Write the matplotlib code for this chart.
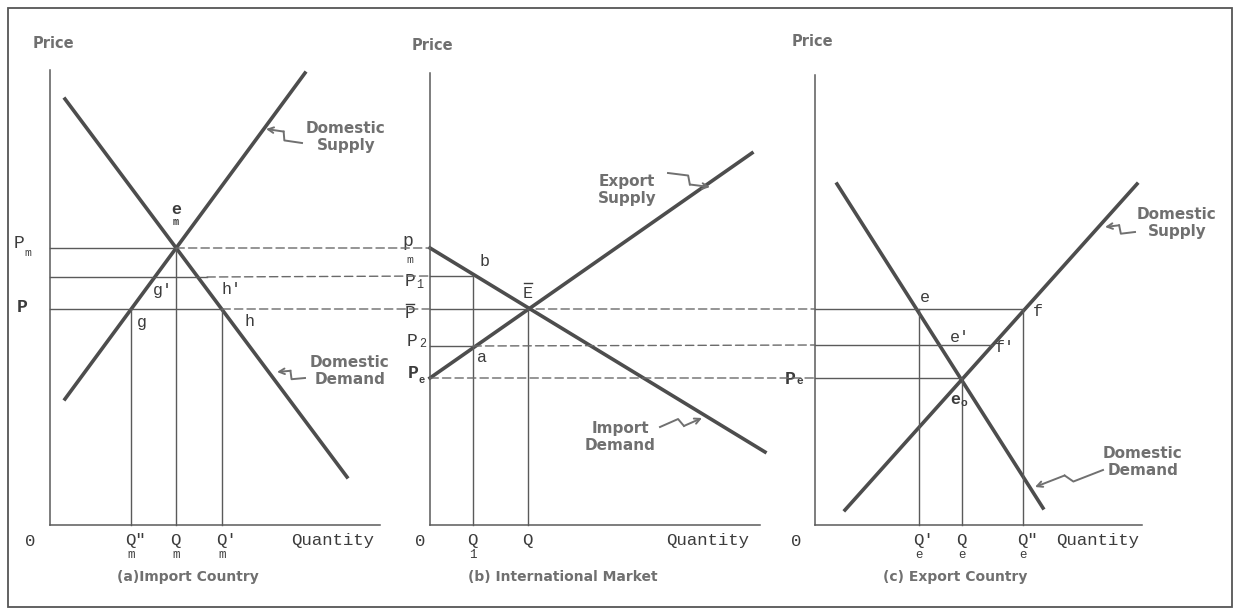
import numpy as np
import matplotlib
matplotlib.use('Agg')
import matplotlib.pyplot as plt
from matplotlib.patches import ConnectionPatch, Rectangle

# values (units: pixels from each panel's origin)
# (a) import country
a_supply_q = [15, 255]
a_supply_p = [126, 452]
a_demand_q = [15, 297]
a_demand_p = [426, 48]
a_em = [126, 277]
a_g = [81, 216]
a_h = [172, 216]
a_h1 = [149, 248]

# (b) international market
b_supply_q = [0, 322]
b_supply_p = [147, 372]
b_demand_q = [0, 335]
b_demand_p = [277, 73]
b_E = [98, 216]
b_b = [43, 249]
b_a = [43, 179]

# (c) export country
c_supply_q = [30, 322]
c_supply_p = [15, 341]
c_demand_q = [22, 228]
c_demand_p = [341, 17]
c_e = [104, 216]
c_f = [208, 216]
c_e0 = [147, 147]
c_f1 = [177, 180]

W, H = 1238, 611
fig = plt.figure(figsize=(W / 100, H / 100), dpi=100)

CURVE = '#4d4d4d'
THIN = '#5a5a5a'
DASH = '#6a6a6a'
TXT = '#707070'
INK = '#3c3c3c'
MONO = 'Liberation Mono'


def panel(x0, ytop, x1, ybot):
    ax = fig.add_axes([x0 / W, 1 - ybot / H, (x1 - x0) / W, (ybot - ytop) / H])
    ax.set_xlim(0, x1 - x0)
    ax.set_ylim(0, ybot - ytop)
    for s in ['top', 'right']:
        ax.spines[s].set_visible(False)
    for s in ['left', 'bottom']:
        ax.spines[s].set_color(THIN)
        ax.spines[s].set_linewidth(1.1)
    ax.set_xticks([])
    ax.set_yticks([])
    ax.patch.set_alpha(0)
    return ax


def thin(ax, q, p):
    ax.plot(q, p, color=THIN, lw=1.0, clip_on=False)


def dashed(axA, ptA, axB, ptB):
    cp = ConnectionPatch(xyA=ptA, coordsA=axA.transData, xyB=ptB, coordsB=axB.transData,
                         color=DASH, lw=1.0, linestyle=(0, (6, 3)))
    fig.add_artist(cp)


def lab(ax, x, y, s, sub=None, size=12, bold=False, dx=5, dy=-11, subsize=8.5, bar=False):
    w = 'bold' if bold else 'normal'
    ax.text(x, y, s, family=MONO, fontsize=size, color=INK, ha='center', va='center',
            fontweight=w, clip_on=False)
    if sub:
        ax.text(x + dx, y + dy, sub, family=MONO, fontsize=subsize, color=INK,
                ha='center', va='center', fontweight=w, clip_on=False)
    if bar:
        ax.plot([x - 4, x + 4], [y + 10, y + 10], color=INK, lw=1.0, clip_on=False)


def qtick(ax, x, s, sub=None):
    ax.text(x - 6, -16, s, family=MONO, fontsize=12.5, color=INK, ha='left', va='center', clip_on=False)
    if sub:
        ax.text(x, -30, sub, family=MONO, fontsize=9, color=INK, ha='center', va='center', clip_on=False)


def note(ax, x, y, s):
    ax.text(x, y, s, fontsize=11, fontweight='bold', color=TXT, ha='center', va='center',
            linespacing=1.15, clip_on=False)


def squiggle(ax, start, end):
    s = np.array(start, float)
    e = np.array(end, float)
    d = e - s
    n = np.array([-d[1], d[0]]) / np.hypot(*d)
    w = 4.0
    p1 = s + 0.45 * d + n * w
    p2 = s + 0.55 * d - n * w
    ax.plot([s[0], p1[0], p2[0]], [s[1], p1[1], p2[1]], color=TXT, lw=1.4, clip_on=False)
    ax.annotate('', xy=e, xytext=p2, arrowprops=dict(arrowstyle='->', color=TXT, lw=1.4,
                                                    shrinkA=0, shrinkB=0, mutation_scale=10))


ax_a = panel(50, 70, 380, 525)
ax_b = panel(430, 73, 760, 525)
ax_c = panel(815, 75, 1142, 525)

# ---- panel a
ax_a.plot(a_supply_q, a_supply_p, color=CURVE, lw=2.6, clip_on=False)
ax_a.plot(a_demand_q, a_demand_p, color=CURVE, lw=2.6, clip_on=False)
thin(ax_a, [0, a_em[0]], [a_em[1]] * 2)
thin(ax_a, [0, a_h1[0] + 8], [a_h1[1]] * 2)
thin(ax_a, [0, a_h[0]], [a_h[1]] * 2)
for pt in [a_g, a_em, a_h]:
    thin(ax_a, [pt[0], pt[0]], [pt[1], 0])
dashed(ax_a, (a_em[0], a_em[1]), ax_b, (0, b_demand_p[0]))
dashed(ax_a, (a_h1[0] + 8, a_h1[1]), ax_b, (0, b_b[1]))
dashed(ax_a, (a_h[0], a_h[1]), ax_b, (0, b_E[1]))

ax_a.text(3, 482, 'Price', fontsize=10.5, fontweight='bold', color=TXT, ha='center', va='center', clip_on=False)
lab(ax_a, -31, 281, 'P', 'm', size=13, dx=9, dy=-9, subsize=8)
lab(ax_a, -28, 218, 'P', size=13, bold=True)
lab(ax_a, 126, 316, 'e', 'm', bold=True, dx=0, dy=-13, subsize=7.5)
lab(ax_a, 113, 235, "g'")
lab(ax_a, 182, 235, "h'")
lab(ax_a, 92, 203, 'g')
lab(ax_a, 200, 203, 'h')
ax_a.text(-20, -16, '0', family=MONO, fontsize=12.5, color=INK, ha='center', va='center', clip_on=False)
qtick(ax_a, a_g[0], 'Q"', 'm')
qtick(ax_a, a_em[0], 'Q', 'm')
qtick(ax_a, a_h[0], "Q'", 'm')
ax_a.text(283, -16, 'Quantity', family=MONO, fontsize=12.5, color=INK, ha='center', va='center', clip_on=False)
note(ax_a, 296, 388, 'Domestic\nSupply')
squiggle(ax_a, (252, 382), (216, 396))
note(ax_a, 300, 154, 'Domestic\nDemand')
squiggle(ax_a, (255, 147), (227, 153))

# ---- panel b
ax_b.plot(b_supply_q, b_supply_p, color=CURVE, lw=2.6, clip_on=False)
ax_b.plot(b_demand_q, b_demand_p, color=CURVE, lw=2.6, clip_on=False)
thin(ax_b, [0, b_b[0]], [b_b[1]] * 2)
thin(ax_b, [0, b_a[0]], [b_a[1]] * 2)
thin(ax_b, [0, b_E[0]], [b_E[1]] * 2)
thin(ax_b, [b_b[0], b_b[0]], [b_b[1], 0])
thin(ax_b, [b_E[0], b_E[0]], [b_E[1], 0])
dashed(ax_b, (b_E[0] + 8, b_E[1]), ax_c, (0, c_e[1]))
dashed(ax_b, (b_a[0], b_a[1]), ax_c, (0, c_f1[1]))
dashed(ax_b, (0, b_supply_p[0]), ax_c, (0, c_e0[1]))

ax_b.text(2, 479, 'Price', fontsize=10.5, fontweight='bold', color=TXT, ha='center', va='center', clip_on=False)
lab(ax_b, -22, 283, 'p', 'm', size=13, dx=2, dy=-18, subsize=8)
lab(ax_b, -20, 244, 'P', '1', size=13, dx=10, dy=-4, subsize=8.5)
lab(ax_b, -20, 211, 'P', size=13, bar=True)
lab(ax_b, -18, 183, 'P', '2', size=13, dx=11, dy=-2, subsize=8.5)
lab(ax_b, -17, 151, 'P', 'e', size=13, bold=True, dx=9, dy=-6, subsize=7.5)
lab(ax_b, 55, 263, 'b')
lab(ax_b, 52, 168, 'a')
lab(ax_b, 98, 232, 'E', bar=True)
ax_b.text(-10, -16, '0', family=MONO, fontsize=12.5, color=INK, ha='center', va='center', clip_on=False)
qtick(ax_b, b_b[0], 'Q', '1')
qtick(ax_b, b_E[0], 'Q')
ax_b.text(278, -16, 'Quantity', family=MONO, fontsize=12.5, color=INK, ha='center', va='center', clip_on=False)
note(ax_b, 197, 335, 'Export\nSupply')
squiggle(ax_b, (238, 352), (280, 338))
note(ax_b, 190, 88, 'Import\nDemand')
squiggle(ax_b, (230, 98), (272, 107))

# ---- panel c
ax_c.plot(c_supply_q, c_supply_p, color=CURVE, lw=2.6, clip_on=False)
ax_c.plot(c_demand_q, c_demand_p, color=CURVE, lw=2.6, clip_on=False)
thin(ax_c, [0, c_f[0]], [c_f[1]] * 2)
thin(ax_c, [0, c_f1[0]], [c_f1[1]] * 2)
thin(ax_c, [0, c_e0[0]], [c_e0[1]] * 2)
for pt in [c_e, c_e0, c_f]:
    thin(ax_c, [pt[0], pt[0]], [pt[1], 0])

ax_c.text(-3, 483, 'Price', fontsize=10.5, fontweight='bold', color=TXT, ha='center', va='center', clip_on=False)
lab(ax_c, -25, 146, 'P', 'e', size=13, bold=True, dx=10, dy=-2, subsize=8)
lab(ax_c, 110, 227, 'e')
lab(ax_c, 223, 213, 'f')
lab(ax_c, 145, 187, "e'")
lab(ax_c, 190, 178, "f'")
lab(ax_c, 140, 125, 'e', 'o', bold=True, dx=9, dy=-3, subsize=8)
ax_c.text(-19, -16, '0', family=MONO, fontsize=12.5, color=INK, ha='center', va='center', clip_on=False)
qtick(ax_c, c_e[0], "Q'", 'e')
qtick(ax_c, c_e0[0], 'Q', 'e')
qtick(ax_c, c_f[0], 'Q"', 'e')
ax_c.text(283, -16, 'Quantity', family=MONO, fontsize=12.5, color=INK, ha='center', va='center', clip_on=False)
note(ax_c, 362, 302, 'Domestic\nSupply')
squiggle(ax_c, (320, 293), (290, 298))
note(ax_c, 328, 63, 'Domestic\nDemand')
squiggle(ax_c, (288, 55), (220, 38))

# captions
for x, s in [(188, '(a)Import Country'), (563, '(b) International Market'), (955, '(c) Export Country')]:
    fig.text(x / W, 1 - 577 / H, s, fontsize=10, fontweight='bold', color=TXT, ha='center', va='center')

# outer frame
fig.add_artist(Rectangle((8 / W, 1 - 607 / H), 1224 / W, 599 / H, transform=fig.transFigure,
                         fill=False, edgecolor='#555555', lw=1.3))

fig.savefig('out.png', dpi=100)
